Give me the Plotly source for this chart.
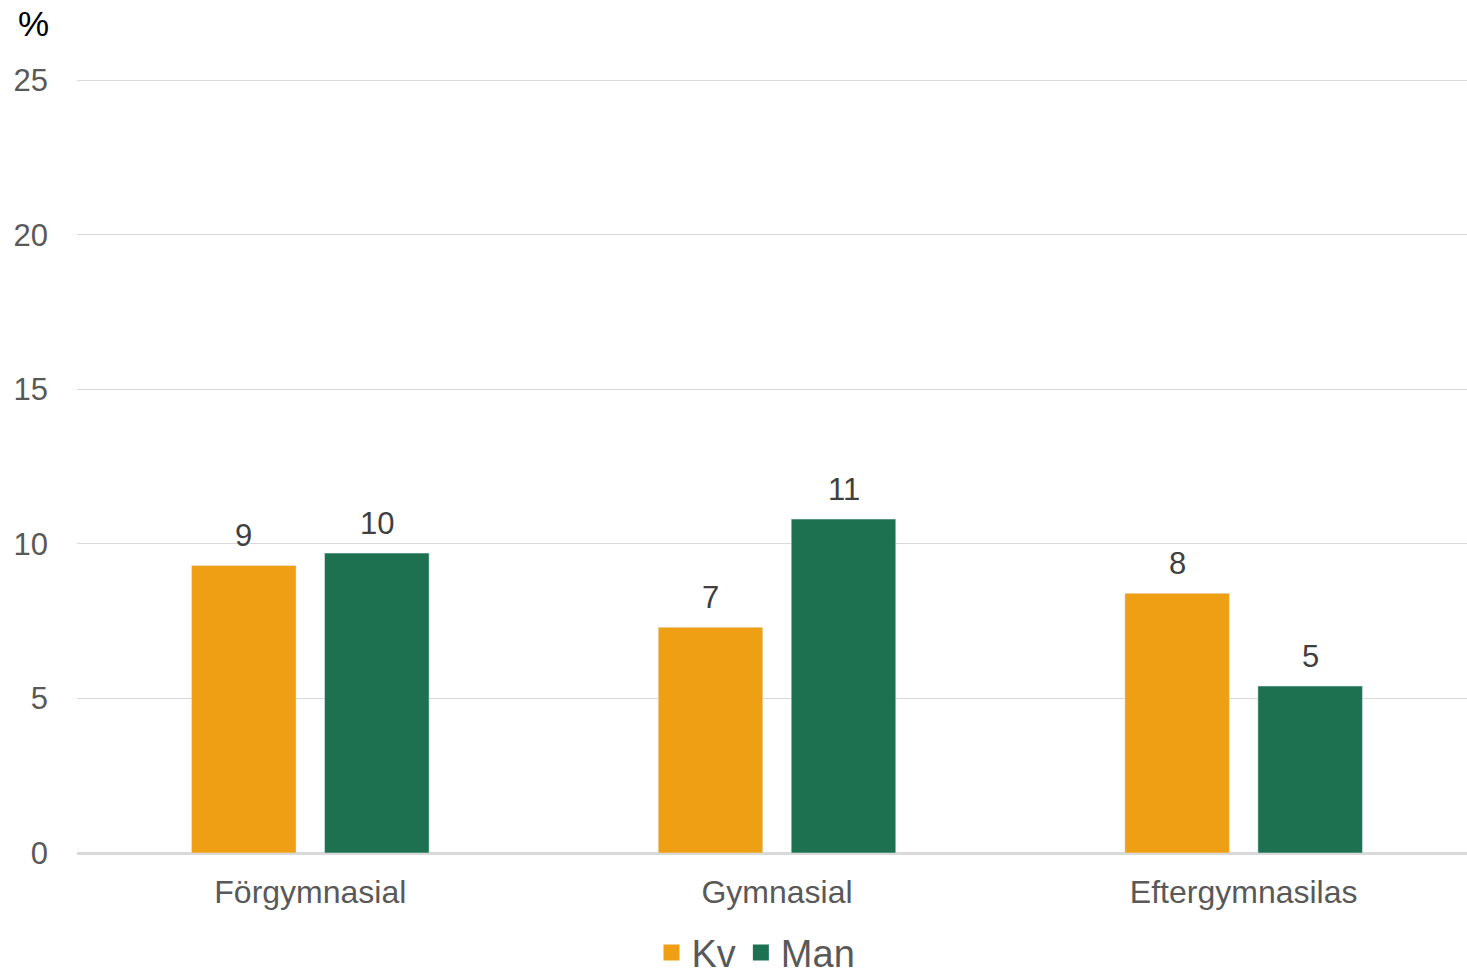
import plotly.graph_objects as go

categories = ["Förgymnasial", "Gymnasial", "Eftergymnasilas"]
kv_values = [9.3, 7.3, 8.4]
man_values = [9.7, 10.8, 5.4]
y_ticks = [0, 5, 10, 15, 20, 25]

FONT = "Liberation Sans, Arial, sans-serif"
ORANGE = "#EE9F14"
GREEN = "#1D7151"

fig = go.Figure()
for name, vals, col in [("Kv", kv_values, ORANGE), ("Man", man_values, GREEN)]:
    fig.add_trace(go.Bar(
        name=name, x=categories, y=vals, marker_color=col,
        showlegend=False, legendgroup=name,
    ))
for name, col in [("Kv", ORANGE), ("Man", GREEN)]:
    fig.add_trace(go.Scatter(
        name=name, x=[None], y=[None], mode="markers", legendgroup=name,
        marker=dict(symbol="square", size=16, color=col), showlegend=True,
    ))

# value labels above bars (rounded to whole percent)
annotations = []
for vals, shift in [(kv_values, -66.5), (man_values, 66.5)]:
    for cat, v in zip(categories, vals):
        annotations.append(dict(
            x=cat, y=v, xref="x", yref="y", text=f"{v:.0f}", showarrow=False,
            xanchor="center", yanchor="bottom", xshift=shift, yshift=10,
            font=dict(family=FONT, size=31, color="#404040"),
        ))
annotations.append(dict(
    text="%", xref="paper", yref="paper", x=0, y=1.0, xshift=-61, yshift=54,
    xanchor="left", yanchor="middle", showarrow=False,
    font=dict(family=FONT, size=35, color="#000000"),
))

fig.update_layout(
    width=1477, height=972,
    margin=dict(l=77, r=0, t=77, b=119),
    paper_bgcolor="white", plot_bgcolor="white",
    barmode="group", bargap=0.43, bargroupgap=0.214,
    font=dict(family=FONT, size=31, color="#595959"),
    showlegend=True,
    legend=dict(
        orientation="h", x=0.485, xanchor="center", xref="paper",
        y=0.0197, yanchor="middle", yref="container",
        font=dict(family=FONT, size=38, color="#595959"),
        itemwidth=30, traceorder="normal",
    ),
    xaxis=dict(
        showgrid=False, showline=True, linecolor="#d9d9d9", linewidth=1.5,
        ticks="", tickfont=dict(family=FONT, size=32, color="#595959"),
        ticklabelstandoff=10,
    ),
    yaxis=dict(
        range=[0, 25.1], tickvals=y_ticks, showgrid=True, gridcolor="#d9d9d9",
        gridwidth=1.3, zeroline=True, zerolinecolor="#d9d9d9", zerolinewidth=1.5,
        showline=False, ticks="",
        tickfont=dict(family=FONT, size=31, color="#595959"),
        ticklabelstandoff=28,
    ),
    annotations=annotations,
)

fig.write_html(
    "out.html",
    config={"displayModeBar": False},
    post_script="document.body.style.margin='0';document.body.style.overflow='hidden';",
)
